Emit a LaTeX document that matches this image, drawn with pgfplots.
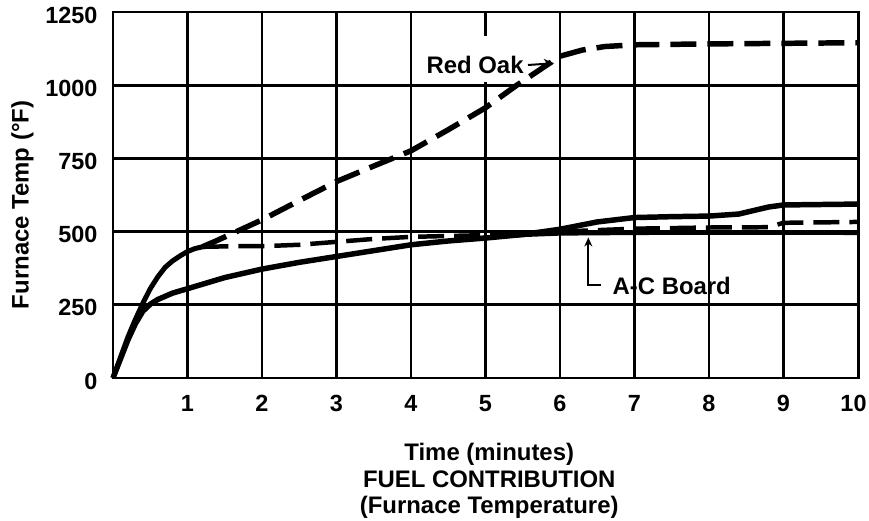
\documentclass[border=0pt]{standalone}
\usepackage{fontspec}
\setmainfont{Liberation Sans}
\usepackage{pgfplots}
\pgfplotsset{compat=1.18}
\usetikzlibrary{arrows.meta}
\begin{document}
\begin{tikzpicture}
\begin{axis}[
  scale only axis, width=745bp, height=366bp,
  xmin=0, xmax=10, ymin=0, ymax=1250,
  xtick={1,...,10}, ytick={0,250,...,1250},
  xticklabels={1,2,3,4,5,6,7,8,9,{\hspace*{-9bp}10}},
  grid=major, major grid style={black, line width=2.8pt},
  axis line style={black, line width=3pt},
  major tick length=0pt,
  tick label style={font=\fontsize{23.5}{27}\selectfont\bfseries},
  /pgf/number format/assume math mode=true,
  /pgf/number format/1000 sep={},
  xticklabel style={yshift=-14bp},
  yticklabel style={xshift=-12bp, yshift=-3bp},
  clip=false,
]
% early upper solid curve
\addplot[black, line width=5pt, line join=round] coordinates {
 (0,0) (0.1,70) (0.2,140) (0.3,200) (0.4,255) (0.5,305) (0.6,345) (0.7,378)
 (0.8,400) (0.9,417) (1.0,432) (1.1,442) (1.2,448)};
% Red Oak dashed
\addplot[black, line width=5.5pt, dash pattern=on 26bp off 11bp] coordinates {
 (1.2,448) (1.4,470) (1.7,505) (2,540) (2.5,606) (3,671) (3.5,724) (4,776)
 (4.5,848) (5,923) (5.42,1000) (6,1099) (6.3,1120) (6.6,1132) (7,1138)
 (8,1141) (9,1143) (10,1145)};
% flat dashed
\addplot[black, line width=4.5pt, dash pattern=on 26bp off 10bp] coordinates {
 (1.2,448) (1.6,450) (2,450) (2.5,455) (3,465) (3.5,475) (4,482) (5,488)
 (6,500) (7,510) (8,514) (8.8,515) (9,530) (10,533)};
% lower solid curve rising to top at right
\addplot[black, line width=5.5pt, line join=round] coordinates {
 (0,0) (0.1,65) (0.2,130) (0.3,185) (0.4,228) (0.5,252) (0.6,268) (0.8,290)
 (1,305) (1.5,343) (2,372) (2.5,395) (3,415) (3.5,435) (4,455) (4.5,468)
 (5,478) (5.5,490) (6,508) (6.5,533) (7,548) (7.5,551) (8,553) (8.4,560)
 (8.8,584) (9,591) (10,594)};
% A-C Board
\addplot[black, line width=4pt] coordinates {
 (4,455) (5,480) (5.5,488) (6,493) (7,495) (8,496) (9,496) (10,495)};

% gap in the gridline at x=5 near the top
\draw[white, line width=4pt] (axis cs:5,1010) -- (axis cs:5,1168);

\node[font=\fontsize{24}{28}\selectfont\bfseries] at (axis cs:4.86,1069) {Red Oak};
\draw[black, line width=2pt, -{Stealth[length=10bp,width=10bp]}] (axis cs:5.57,1069) -- (axis cs:5.92,1075);
\node[font=\fontsize{24}{28}\selectfont\bfseries] at (axis cs:7.5,316) {A-C Board};
\draw[black, line width=2pt, -{Stealth[length=9bp,width=8bp]}] (axis cs:6.55,316) -- (axis cs:6.38,316) -- (axis cs:6.38,480);

\node[rotate=90, font=\fontsize{24}{28}\selectfont\bfseries] at (axis description cs:-0.1215,0.473) {Furnace Temp (°F)};
\node[align=center, font=\fontsize{24}{26.5}\selectfont\bfseries] at (axis description cs:0.505,-0.281)
 {Time (minutes)\\FUEL CONTRIBUTION\\(Furnace Temperature)};
\end{axis}
\pgfresetboundingbox
\path ([shift={(-113bp,-143bp)}]current axis.south west) rectangle ([shift={(11bp,12bp)}]current axis.north east);
\end{tikzpicture}
\end{document}
